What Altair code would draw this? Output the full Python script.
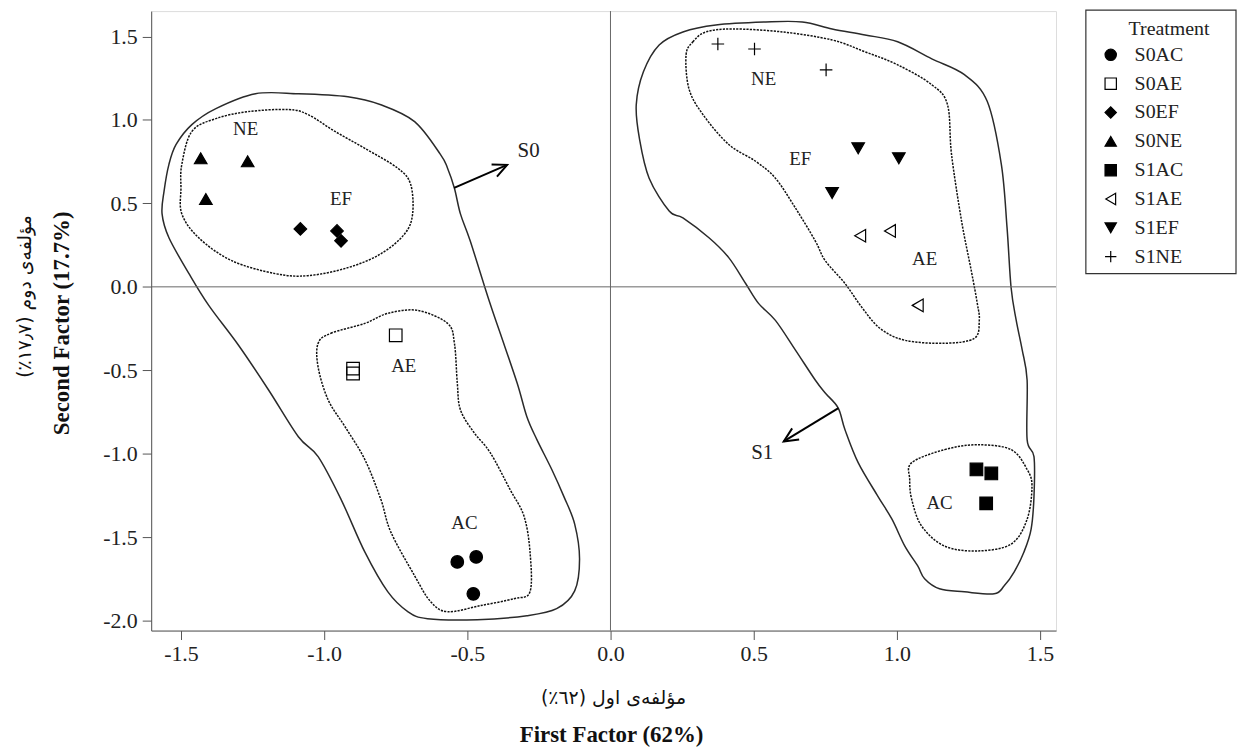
import altair as alt
import pandas as pd

# ---------------- data ----------------
treatments = ["S0AC", "S0AE", "S0EF", "S0NE", "S1AC", "S1AE", "S1EF", "S1NE"]

pt_treatment = ["S0AC", "S0AC", "S0AC", "S0AE", "S0AE", "S0AE", "S0EF", "S0EF", "S0EF",
                "S0NE", "S0NE", "S0NE", "S1AC", "S1AC", "S1AC", "S1AE", "S1AE", "S1AE",
                "S1EF", "S1EF", "S1EF", "S1NE", "S1NE", "S1NE"]
pt_x = [-0.535, -0.469, -0.479, -0.750, -0.899, -0.899, -1.083, -0.955, -0.941,
        -1.431, -1.267, -1.413, 1.278, 1.330, 1.312, 0.872, 0.976, 1.073,
        0.865, 1.007, 0.774, 0.375, 0.503, 0.753]
pt_y = [-1.648, -1.618, -1.839, -0.290, -0.490, -0.519, 0.347, 0.335, 0.276,
        0.770, 0.752, 0.526, -1.094, -1.118, -1.297, 0.306, 0.335, -0.111,
        0.830, 0.770, 0.562, 1.455, 1.425, 1.300]

# contour outlines (data units)
s0_outer_x = [-0.639, -0.465, -0.292, -0.188, -0.125, -0.108, -0.125, -0.163, -0.205, -0.257,
              -0.292, -0.326, -0.385, -0.424, -0.490, -0.524, -0.545, -0.569, -0.594, -0.684,
              -0.802, -0.917, -1.090, -1.240, -1.378, -1.462, -1.517, -1.542, -1.559, -1.566,
              -1.542, -1.472, -1.403, -1.299, -1.194, -1.090, -1.021, -0.941, -0.858, -0.778,
              -0.708]
s0_outer_y = [-1.988, -1.994, -1.970, -1.928, -1.821, -1.630, -1.421, -1.255, -1.094, -0.915,
              -0.778, -0.576, -0.278, -0.082, 0.276, 0.437, 0.591, 0.711, 0.794, 0.990,
              1.091, 1.139, 1.157, 1.157, 1.068, 0.972, 0.853, 0.734, 0.574, 0.437,
              0.294, 0.079, -0.111, -0.350, -0.618, -0.898, -1.017, -1.273, -1.588, -1.826,
              -1.945]
s0_top_x = [-1.497, -1.462, -1.378, -1.264, -1.125, -1.056, -0.962, -0.858, -0.743, -0.698,
            -0.691, -0.719, -0.802, -0.917, -1.056, -1.170, -1.323, -1.438, -1.497, -1.500]
s0_top_y = [0.734, 0.931, 1.008, 1.050, 1.062, 1.032, 0.931, 0.830, 0.711, 0.615,
            0.437, 0.317, 0.198, 0.115, 0.067, 0.079, 0.157, 0.294, 0.437, 0.591]
s0_low_x = [-1.021, -0.976, -0.858, -0.778, -0.674, -0.569, -0.545, -0.535, -0.524, -0.476,
            -0.420, -0.351, -0.302, -0.281, -0.281, -0.337, -0.455, -0.569, -0.628, -0.684,
            -0.767, -0.802, -0.858, -0.927, -0.986, -1.021]
s0_low_y = [-0.338, -0.278, -0.219, -0.159, -0.141, -0.219, -0.338, -0.576, -0.737, -0.874,
            -0.993, -1.213, -1.374, -1.588, -1.826, -1.868, -1.910, -1.946, -1.886, -1.731,
            -1.469, -1.273, -1.034, -0.838, -0.677, -0.481]
s1_outer_x = [0.090, 0.115, 0.170, 0.253, 0.368, 0.542, 0.670, 0.774, 0.889, 1.003,
              1.122, 1.236, 1.316, 1.365, 1.385, 1.399, 1.417, 1.438, 1.455, 1.455,
              1.479, 1.479, 1.469, 1.444, 1.410, 1.375, 1.340, 1.236, 1.149, 1.097,
              1.073, 1.028, 0.983, 0.934, 0.865, 0.819, 0.795, 0.750, 0.715, 0.646,
              0.576, 0.517, 0.472, 0.413, 0.344, 0.253, 0.205, 0.135, 0.101]
s1_outer_y = [1.091, 1.288, 1.449, 1.527, 1.569, 1.587, 1.587, 1.545, 1.509, 1.468,
              1.366, 1.271, 1.110, 0.734, 0.353, -0.004, -0.201, -0.379, -0.558, -0.915,
              -1.017, -1.255, -1.451, -1.588, -1.707, -1.791, -1.839, -1.827, -1.809, -1.749,
              -1.672, -1.553, -1.392, -1.255, -1.053, -0.856, -0.725, -0.636, -0.558, -0.379,
              -0.201, -0.099, 0.020, 0.175, 0.294, 0.413, 0.454, 0.651, 0.889]
s1_top_x = [0.264, 0.288, 0.333, 0.427, 0.601, 0.774, 0.889, 1.003, 1.122, 1.177,
            1.191, 1.226, 1.260, 1.281, 1.288, 1.271, 1.167, 1.028, 0.941, 0.878,
            0.819, 0.750, 0.715, 0.646, 0.576, 0.507, 0.413, 0.323, 0.274]
s1_top_y = [1.390, 1.468, 1.527, 1.545, 1.527, 1.479, 1.408, 1.330, 1.211, 1.091,
            0.794, 0.395, 0.097, -0.099, -0.201, -0.308, -0.338, -0.320, -0.248, -0.123,
            0.020, 0.157, 0.276, 0.472, 0.651, 0.752, 0.853, 1.032, 1.187]
s1_ac_x = [1.052, 1.167, 1.281, 1.399, 1.455, 1.472, 1.455, 1.399, 1.281, 1.167,
           1.087, 1.052, 1.045]
s1_ac_y = [-1.053, -0.975, -0.946, -0.975, -1.094, -1.195, -1.392, -1.541, -1.582, -1.553,
           -1.434, -1.273, -1.154]

group_labels = ["NE", "EF", "AE", "AC", "NE", "EF", "AE", "AC"]
group_x = [-1.274, -0.941, -0.722, -0.510, 0.535, 0.663, 1.097, 1.149]
group_y = [0.944, 0.526, -0.474, -1.415, 1.247, 0.764, 0.169, -1.297]

sal_labels = ["S0", "S1"]
sal_x = [-0.286, 0.530]
sal_y = [0.811, -0.996]

arrow_id = ["S0", "S0", "S1", "S1"]
arrow_x = [-0.546, -0.361, 0.796, 0.605]
arrow_y = [0.593, 0.731, -0.727, -0.926]

x_ticks = [-1.5, -1.0, -0.5, 0.0, 0.5, 1.0, 1.5]
y_ticks = [-2.0, -1.5, -1.0, -0.5, 0.0, 0.5, 1.0, 1.5]

x_title_en = "First Factor (62%)"
x_title_ar = "مؤلفەی اول (٦٢٪)"
y_title_en = "Second Factor (17.7%)"
y_title_ar = "مؤلفەی دوم (١٧٫٧٪)"
legend_title = "Treatment"

# ---------------- tables ----------------
pts = pd.DataFrame({"x": pt_x, "y": pt_y, "Treatment": pt_treatment})

contour_defs = [
    ("s0_outer", "solid", s0_outer_x, s0_outer_y),
    ("s0_top", "dashed", s0_top_x, s0_top_y),
    ("s0_low", "dashed", s0_low_x, s0_low_y),
    ("s1_outer", "solid", s1_outer_x, s1_outer_y),
    ("s1_top", "dashed", s1_top_x, s1_top_y),
    ("s1_ac", "dashed", s1_ac_x, s1_ac_y),
]
rows = []
for cid, style, xs_, ys_ in contour_defs:
    for i, (a, b) in enumerate(zip(xs_, ys_)):
        rows.append({"x": a, "y": b, "cid": cid, "style": style, "i": i})
contours_df = pd.DataFrame(rows)

groups_df = pd.DataFrame({"x": group_x, "y": group_y, "label": group_labels})
sal_df = pd.DataFrame({"x": sal_x, "y": sal_y, "label": sal_labels})
arrows_df = pd.DataFrame({"x": arrow_x, "y": arrow_y, "arrow": arrow_id,
                          "i": [0, 1, 0, 1]})
heads_df = arrows_df[arrows_df["i"] == 1].copy()
heads_df["angle"] = [336, 148]
dummy = pd.DataFrame({"a": [0]})

# ---------------- scales / axes ----------------
FONT = "Liberation Serif"
xs = alt.Scale(domain=[-1.604, 1.556], nice=False, zero=False)
ys = alt.Scale(domain=[-2.059, 1.652], nice=False, zero=False)
label_expr = "replace(format(datum.value, '.1f'), '\u2212', '-')"
xaxis = alt.Axis(values=x_ticks, labelExpr=label_expr, title=None, grid=False,
                 tickSize=9, tickColor="#555", domainColor="#555", labelFont=FONT,
                 labelFontSize=22, labelColor="#222", labelPadding=4, labelFlush=False)
yaxis = alt.Axis(values=y_ticks, labelExpr=label_expr, title=None, grid=False,
                 tickSize=9, tickColor="#555", domainColor="#555", labelFont=FONT,
                 labelFontSize=22, labelColor="#222", labelPadding=5)
X = alt.X("x:Q", scale=xs, axis=xaxis)
Y = alt.Y("y:Q", scale=ys, axis=yaxis)

# ---------------- layers ----------------
solid_contours = alt.Chart(contours_df).transform_filter(
    alt.datum.style == "solid"
).mark_line(
    interpolate="cardinal-closed", color="#2a2a2a", strokeWidth=1.5
).encode(x=X, y=Y, detail="cid:N", order="i:Q")

dashed_contours = alt.Chart(contours_df).transform_filter(
    alt.datum.style == "dashed"
).mark_line(
    interpolate="cardinal-closed", color="#111", strokeWidth=1.5, strokeDash=[2.2, 1.2]
).encode(x=X, y=Y, detail="cid:N", order="i:Q")

zero_v = alt.Chart(pd.DataFrame({"x": [0.0]})).mark_rule(color="#666", strokeWidth=1).encode(x=X)
zero_h = alt.Chart(pd.DataFrame({"y": [0.0]})).mark_rule(color="#666", strokeWidth=1).encode(y=Y)

arrow_lines = alt.Chart(arrows_df).mark_line(color="black", strokeWidth=2).encode(
    x=X, y=Y, detail="arrow:N", order="i:Q")
arrow_heads = alt.Chart(heads_df).mark_point(
    shape="M-1,-0.47L0,0L-1,0.47", filled=False, color="black", strokeWidth=2,
    size=800, opacity=1
).encode(x=X, y=Y, angle=alt.Angle("angle:Q", scale=None))

shape_range = ["circle", "square", "diamond", "triangle-up", "square",
               "triangle-left", "triangle-down", "M-1,0H1M0,-1V1"]
fill_range = ["black", "transparent", "black", "black", "black", "transparent",
              "black", "black"]
legend = alt.Legend(title=None, orient="none", legendX=955, legendY=34, padding=0,
                    symbolOffset=0, labelOffset=14, labelFont=FONT, labelFontSize=20,
                    labelColor="#222", rowPadding=9, symbolSize=130,
                    symbolStrokeColor="black", symbolStrokeWidth=1.2)
points = alt.Chart(pts).mark_point(
    filled=False, strokeWidth=1.2, size=160, opacity=1
).encode(
    x=X, y=Y,
    shape=alt.Shape("Treatment:N", scale=alt.Scale(domain=treatments, range=shape_range),
                    legend=legend),
    fill=alt.Fill("Treatment:N", scale=alt.Scale(domain=treatments, range=fill_range),
                  legend=legend),
    stroke=alt.Stroke("Treatment:N", scale=alt.Scale(domain=treatments, range=["black"] * 8),
                      legend=legend),
)

group_text = alt.Chart(groups_df).mark_text(
    font=FONT, fontSize=19, color="#222"
).encode(x=X, y=Y, text="label:N")
sal_text = alt.Chart(sal_df).mark_text(
    font=FONT, fontSize=21, color="#222"
).encode(x=X, y=Y, text="label:N")

legend_box = alt.Chart(dummy).mark_rect(
    fillOpacity=0, stroke="#333", strokeWidth=1.2
).encode(x=alt.value(940), x2=alt.value(1091), y=alt.value(-1), y2=alt.value(264))
legend_title_t = alt.Chart(dummy).mark_text(
    font=FONT, fontSize=20, color="#222", align="left", baseline="middle"
).encode(x=alt.value(983), y=alt.value(18), text=alt.value(legend_title))

RLM = "\u200f"
xt_ar = alt.Chart(dummy).mark_text(
    font="DejaVu Sans", fontSize=19, color="#111", align="center", baseline="middle"
).encode(x=alt.value(465), y=alt.value(691), text=alt.value(RLM + x_title_ar + RLM))
xt_en = alt.Chart(dummy).mark_text(
    font=FONT, fontSize=23, fontWeight="bold", color="#111", align="center", baseline="middle"
).encode(x=alt.value(463), y=alt.value(728), text=alt.value(x_title_en))
yt_ar = alt.Chart(dummy).mark_text(
    font="DejaVu Sans", fontSize=19, color="#111", align="center", baseline="middle", angle=270
).encode(x=alt.value(-127), y=alt.value(287), text=alt.value(RLM + y_title_ar + RLM))
yt_en = alt.Chart(dummy).mark_text(
    font=FONT, fontSize=23, fontWeight="bold", color="#111", align="center", baseline="middle", angle=270
).encode(x=alt.value(-90), y=alt.value(314), text=alt.value(y_title_en))

chart = alt.layer(
    solid_contours, dashed_contours, zero_v, zero_h, arrow_lines, arrow_heads, points,
    group_text, sal_text, legend_box, legend_title_t, xt_ar, xt_en, yt_ar, yt_en
).properties(
    width=910, height=623,
    padding={"left": 144, "top": 1, "right": 182, "bottom": 116},
    autosize=alt.AutoSizeParams(type="none"),
).configure_view(stroke="#555", strokeWidth=1.3).configure(background="white")

chart.save("out.html", embed_options={"renderer": "svg", "actions": False})
